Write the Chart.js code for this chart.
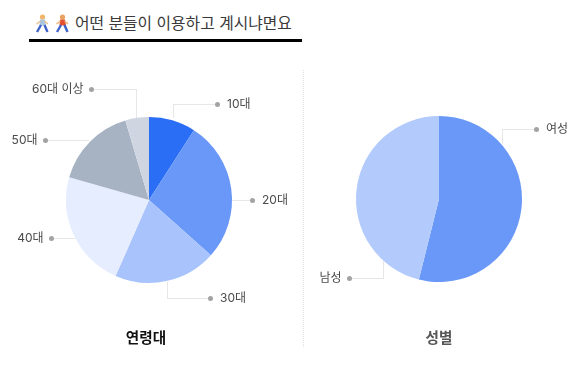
<!DOCTYPE html>
<html lang="ko">
<head>
    <meta charset="UTF-8">
    <title>어떤 분들이 이용하고 계시냐면요</title>
    <script src="https://cdn.jsdelivr.net/npm/chart.js"></script>
    <style>
        html, body {
            margin: 0;
            padding: 0;
            background: #fff;
            overflow: hidden;
        }
        body {
            width: 578px;
            height: 372px;
            position: relative;
            font-family: Inter, "Noto Sans CJK KR", "Noto Sans", sans-serif;
        }
        #heading {
            position: absolute;
            left: 29px;
            top: 11px;
            width: 273px;
            height: 28px;
            border-bottom: 3px solid #000;
            font-size: 15.8px;
            line-height: 26px;
            color: #3a3a3a;
            white-space: nowrap;
        }
        #heading svg {
            position: absolute;
            top: 3px;
        }
        #heading span {
            position: absolute;
            left: 46px;
            top: 0;
        }
        #divider {
            position: absolute;
            left: 303px;
            top: 70px;
            height: 277px;
            border-left: 1px dotted #e0e0e0;
        }
        .caption {
            position: absolute;
            top: 327px;
            width: 120px;
            text-align: center;
            font-size: 14.6px;
            line-height: 22px;
            font-weight: 700;
        }
        canvas { position: absolute; }
    </style>
</head>
<body>
    <div id="heading">
        <svg style="left:6px" width="14" height="19" viewBox="0 0 14 19" role="img" aria-label="걷는 여성">
            <circle cx="7.5" cy="3" r="2.6" fill="#f2b56b"/>
            <path d="M5 5.5h5l1 6h-6.5z" fill="#a9c6de"/>
            <path d="M6 11l-4 7M9.5 11l3 7" stroke="#3f63c9" stroke-width="2.4" fill="none"/>
            <path d="M9.5 7l3.5 3M5.5 7l-4 3" stroke="#f0c08a" stroke-width="1.4" fill="none"/>
        </svg>
        <svg style="left:26px" width="14" height="19" viewBox="0 0 14 19" role="img" aria-label="걷는 남성">
            <circle cx="7.5" cy="3" r="2.6" fill="#e8a25f"/>
            <path d="M5 5.5h5l1 6h-6.5z" fill="#e2502f"/>
            <path d="M6 11l-4 7M9.5 11l3 7" stroke="#3f63c9" stroke-width="2.4" fill="none"/>
            <path d="M9.5 7l3.5 3M5.5 7l-4 3" stroke="#f0b070" stroke-width="1.4" fill="none"/>
        </svg>
        <span>어떤 분들이 이용하고 계시냐면요</span>
    </div>
    <div id="divider"></div>
    <canvas id="ageChart" style="left:0;top:70px"></canvas>
    <canvas id="genderChart" style="left:300px;top:69px"></canvas>
    <div class="caption" style="left:86px;color:#111">연령대</div>
    <div class="caption" style="left:379px;color:#555">성별</div>

    <script>
        // values (percent)
        const ageLabels = ['10대', '20대', '30대', '40대', '50대', '60대 이상'];
        const ageValues = [9.1, 27.5, 20, 22.8, 16, 4.6];
        const ageColors = ['#2b6ef6', '#6998f8', '#a9c3fc', '#e6edfe', '#a7b3c3', '#cfd6e1'];

        const genderLabels = ['여성', '남성'];
        const genderValues = [53.9, 46.1];
        const genderColors = ['#6998f8', '#b3cafc'];

        // leader lines: points relative to the pie centre, last point is the dot
        const ageLeaders = [
            [[24, -83], [24, -96], [68, -96]],
            [[83, 0], [103, 0]],
            [[17.5, 82], [17.5, 98], [61, 98]],
            [[-75, 38], [-98, 38]],
            [[-61, -60], [-104, -60]],
            [[-13, -82], [-13, -111], [-58, -111]]
        ];
        const genderLeaders = [
            [[63, -56], [63, -70], [97, -70]],
            [[-56, 62], [-56, 79], [-90, 79]]
        ];

        // draws the dotted leader, the grey dot and the label for each slice
        const leaderPlugin = {
            id: 'leaders',
            afterDatasetsDraw(chart, args, opts) {
                const ctx = chart.ctx;
                const arc = chart.getDatasetMeta(0).data[0];
                const cx = arc.x;
                const cy = arc.y;
                ctx.save();
                opts.paths.forEach((path, i) => {
                    ctx.beginPath();
                    ctx.setLineDash([1, 1]);
                    ctx.strokeStyle = '#cfcfcf';
                    ctx.lineWidth = 1;
                    path.forEach((p, j) => {
                        const x = Math.round(cx + p[0]) + 0.5;
                        const y = Math.round(cy + p[1]) + 0.5;
                        if (j === 0) ctx.moveTo(x, y); else ctx.lineTo(x, y);
                    });
                    ctx.stroke();
                    ctx.setLineDash([]);

                    const end = path[path.length - 1];
                    const prev = path[path.length - 2];
                    const dir = end[0] > prev[0] ? 1 : -1;
                    const ex = Math.round(cx + end[0]) + 0.5;
                    const ey = Math.round(cy + end[1]) + 0.5;
                    ctx.beginPath();
                    ctx.fillStyle = '#a3a3a3';
                    ctx.arc(ex, ey, 2.5, 0, Math.PI * 2);
                    ctx.fill();

                    ctx.fillStyle = '#4a4a4a';
                    ctx.font = '12px Inter, "Noto Sans CJK KR", "Noto Sans", sans-serif';
                    ctx.textBaseline = 'middle';
                    ctx.textAlign = dir > 0 ? 'left' : 'right';
                    ctx.fillText(chart.data.labels[i], ex + dir * (dir > 0 ? 9.5 : 8), ey);
                });
                ctx.restore();
            }
        };

        function renderPie(id, labels, values, colors, paths, width, sidePad) {
            const canvas = document.getElementById(id);
            canvas.width = width;
            canvas.height = 260;
            return new Chart(canvas, {
                type: 'pie',
                data: {
                    labels: labels,
                    datasets: [{ data: values, backgroundColor: colors, borderWidth: 0 }]
                },
                options: {
                    responsive: false,
                    animation: false,
                    layout: { padding: { top: 47, bottom: 47, left: sidePad, right: sidePad } },
                    plugins: {
                        legend: { display: false },
                        tooltip: { enabled: false },
                        leaders: { paths: paths }
                    }
                },
                plugins: [leaderPlugin]
            });
        }

        renderPie('ageChart', ageLabels, ageValues, ageColors, ageLeaders, 298, 66);
        renderPie('genderChart', genderLabels, genderValues, genderColors, genderLeaders, 278, 56);
    </script>
</body>
</html>
